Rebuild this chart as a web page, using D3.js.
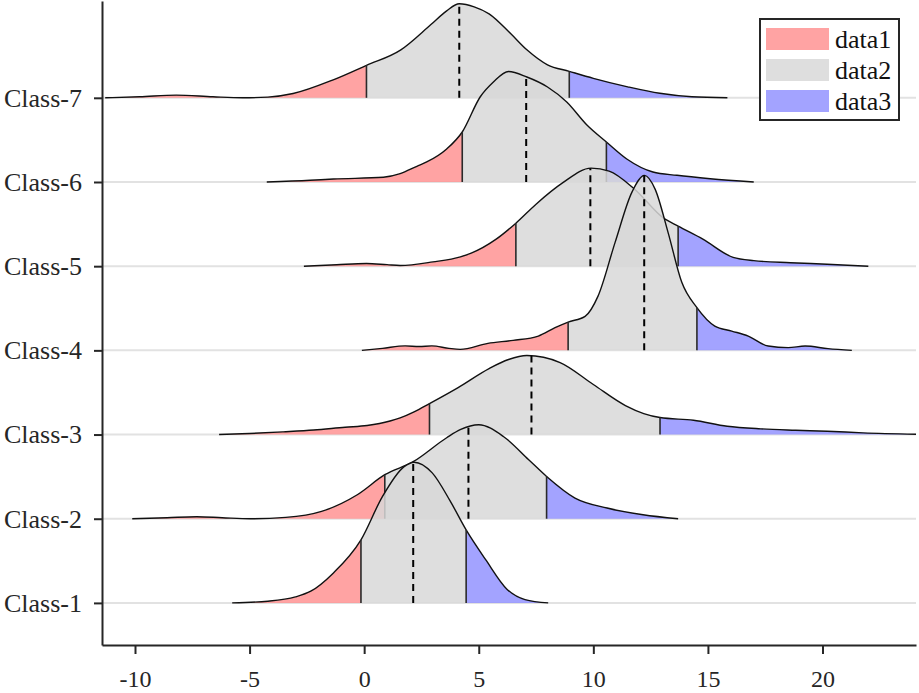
<!DOCTYPE html>
<html>
<head>
<meta charset="utf-8">
<script src="https://cdn.jsdelivr.net/npm/d3@7/dist/d3.min.js"></script>
<style>
  html, body { margin: 0; padding: 0; background: #fff; }
  svg { display: block; }
  text { font-family: "Liberation Serif", "DejaVu Serif", serif; }
</style>
</head>
<body>
<svg id="chart" width="919" height="693"></svg>
<script>
// ---------------- data ----------------
const categories = ["Class-1", "Class-2", "Class-3", "Class-4", "Class-5", "Class-6", "Class-7"];
const seriesNames = ["data1", "data2", "data3"];
const xTicks = [-10, -5, 0, 5, 10, 15, 20];

// density curves: x positions and density heights for each class
const class1X = [-5.76, -4.2, -3.0, -2.33, -1.34, -0.14, 0.79, 1.73, 2.18, 2.97, 3.75, 4.45, 5.31, 6.24, 7.02, 8.03];
const class1D = [0, 0.017, 0.06, 0.117, 0.30, 0.63, 1.06, 1.36, 1.407, 1.30, 1.02, 0.73, 0.43, 0.135, 0.033, 0];

const class2X = [-10.12, -8.6, -7.31, -6.2, -4.97, -3.42, -1.86, -0.3, 0.9, 2.14, 3.6, 4.19, 5.0, 6.09, 7.18, 7.96, 9.2, 10.6, 12.17, 13.7];
const class2D = [0, 0.01, 0.02, 0.01, 0, 0.013, 0.073, 0.24, 0.44, 0.57, 0.81, 0.89, 0.94, 0.82, 0.59, 0.423, 0.207, 0.107, 0.04, 0];

const class3X = [-6.33, -5.0, -3.53, -2.2, -0.83, 0.13, 1.13, 1.57, 2.2, 2.85, 4.1, 5.45, 6.3, 7.1, 8.55, 10.0, 11.4, 12.2, 12.91, 14.37, 15.84, 17.3, 18.83, 20.2, 21.77, 24.08];
const class3D = [0, 0.01, 0.027, 0.045, 0.073, 0.09, 0.135, 0.167, 0.23, 0.31, 0.47, 0.66, 0.75, 0.79, 0.72, 0.50, 0.29, 0.21, 0.17, 0.143, 0.083, 0.057, 0.043, 0.033, 0.017, 0.003];

const class4X = [-0.1, 0.8, 1.79, 2.4, 2.95, 3.7, 4.19, 5.4, 6.5, 7.6, 8.33, 8.9, 9.64, 10.2, 10.95, 11.68, 12.23, 12.7, 13.26, 13.86, 14.52, 15.3, 16.04, 16.76, 17.63, 18.5, 19.24, 20.24, 21.28];
const class4D = [0, 0.02, 0.045, 0.038, 0.045, 0.02, 0.01, 0.07, 0.10, 0.143, 0.227, 0.283, 0.34, 0.54, 1.08, 1.58, 1.75, 1.61, 1.18, 0.68, 0.427, 0.243, 0.193, 0.143, 0.043, 0.027, 0.043, 0.017, 0];

const class5X = [-2.63, -1.2, 0.1, 1.0, 1.57, 3.0, 4.2, 4.67, 5.76, 6.62, 7.5, 8.64, 9.9, 10.69, 11.8, 13.07, 13.7, 14.78, 16.1, 17.0, 18.6, 20.2, 22.0];
const class5D = [0, 0.015, 0.027, 0.015, 0.007, 0.043, 0.093, 0.13, 0.27, 0.43, 0.62, 0.83, 0.98, 0.95, 0.77, 0.48, 0.40, 0.27, 0.088, 0.055, 0.035, 0.02, 0];

const class6X = [-4.25, -2.36, -1.34, 0.84, 1.57, 2.3, 2.73, 3.6, 4.28, 5.06, 5.64, 6.3, 7.1, 8.0, 8.84, 9.72, 10.57, 11.46, 12.6, 13.65, 15.1, 17.0];
const class6D = [0, 0.017, 0.03, 0.047, 0.083, 0.157, 0.20, 0.33, 0.50, 0.85, 1.0, 1.105, 1.05, 0.95, 0.80, 0.57, 0.40, 0.23, 0.10, 0.067, 0.033, 0];

const class7X = [-11.3, -9.8, -8.2, -6.6, -5.3, -4.2, -3.1, -1.35, 0.1, 1.6, 2.9, 3.6, 4.15, 4.8, 5.45, 6.4, 7.1, 8.0, 8.95, 10.0, 11.5, 12.9, 14.3, 15.85];
const class7D = [0, 0.01, 0.027, 0.01, 0, 0.007, 0.043, 0.18, 0.325, 0.48, 0.73, 0.87, 0.94, 0.91, 0.84, 0.64, 0.48, 0.33, 0.265, 0.195, 0.11, 0.045, 0.01, 0];

// quantile split points (lower, median, upper) per class
const lowerQ  = [-0.14, 0.9, 2.85, 8.9, 6.62, 4.28, 0.1];
const medians = [2.14, 4.55, 7.3, 12.22, 9.87, 7.07, 4.15];
const upperQ  = [4.45, 7.96, 12.91, 14.52, 13.7, 10.57, 8.95];

const curvesX = [class1X, class2X, class3X, class4X, class5X, class6X, class7X];
const curvesD = [class1D, class2D, class3D, class4D, class5D, class6D, class7D];

// ---------------- drawing ----------------
(function draw() {
  const W = 919, H = 693;
  const pL = 102, pR = 916, pT = 1, pB = 645;
  const colors = ["rgb(255,147,147)", "rgb(216,216,216)", "rgb(147,147,255)"];
  const fillAlpha = 0.85;
  const axisColor = "#262626";

  const svg = d3.select("#chart");
  const x = d3.scaleLinear().domain([-11.44, 24.08]).range([pL, pR]);
  const y = d3.scaleLinear().domain([0.5, 8.15]).range([pB, pT]);
  const ridge = d3.scaleLinear().domain([0, 1]).range([0, 1.188]);

  const defs = svg.append("defs");
  defs.append("clipPath").attr("id", "plotclip")
    .append("rect").attr("x", pL).attr("y", 0).attr("width", pR - pL).attr("height", pB);

  // grid lines
  svg.append("g").selectAll("line").data(categories).join("line")
    .attr("x1", pL).attr("x2", pR)
    .attr("y1", (d, i) => y(i + 1)).attr("y2", (d, i) => y(i + 1))
    .attr("stroke", "#e2e2e2").attr("stroke-width", 2);

  const plot = svg.append("g").attr("clip-path", "url(#plotclip)");

  // draw from top class down so lower ridges overlap upper ones
  for (let i = categories.length - 1; i >= 0; i--) {
    const base = i + 1;
    const pts = curvesX[i].map((xv, k) => [xv, curvesD[i][k]]);
    const area = d3.area().curve(d3.curveMonotoneX)
      .x(d => x(d[0])).y0(y(base)).y1(d => y(base + ridge(d[1])));
    const line = d3.line().curve(d3.curveMonotoneX)
      .x(d => x(d[0])).y(d => y(base + ridge(d[1])));

    const g = plot.append("g");
    const bounds = [x.domain()[0], lowerQ[i], upperQ[i], x.domain()[1]];
    for (let s = 0; s < 3; s++) {
      const cid = "clip-" + i + "-" + s;
      defs.append("clipPath").attr("id", cid).append("rect")
        .attr("x", x(bounds[s])).attr("width", x(bounds[s + 1]) - x(bounds[s]))
        .attr("y", 0).attr("height", H);
      g.append("path").datum(pts).attr("d", area)
        .attr("clip-path", "url(#" + cid + ")")
        .attr("fill", colors[s]).attr("fill-opacity", fillAlpha).attr("stroke", "none");
    }
    const outline = g.append("path").datum(pts).attr("d", line)
      .attr("fill", "none").attr("stroke", "#111").attr("stroke-width", 1.4);

    const node = outline.node();
    const total = node.getTotalLength();
    const yAt = (xv) => {
      const px = x(xv);
      let lo = 0, hi = total;
      for (let it = 0; it < 40; it++) {
        const mid = (lo + hi) / 2;
        if (node.getPointAtLength(mid).x < px) lo = mid; else hi = mid;
      }
      return node.getPointAtLength((lo + hi) / 2).y;
    };
    [lowerQ[i], upperQ[i]].forEach(q => {
      g.append("line").attr("x1", x(q)).attr("x2", x(q))
        .attr("y1", y(base)).attr("y2", yAt(q))
        .attr("stroke", "#2a2a2a").attr("stroke-width", 1.6);
    });
    g.append("line").attr("x1", x(medians[i])).attr("x2", x(medians[i]))
      .attr("y1", y(base)).attr("y2", yAt(medians[i]))
      .attr("stroke", "#000").attr("stroke-width", 2).attr("stroke-dasharray", "7,5");
  }

  // axes
  const xAxis = d3.axisBottom(x).tickValues(xTicks).tickFormat(d => String(d))
    .tickSize(9).tickSizeOuter(0).tickPadding(16);
  const gx = svg.append("g").attr("transform", `translate(0,${pB})`).call(xAxis);
  gx.select(".domain").attr("stroke", axisColor).attr("stroke-width", 2);
  gx.selectAll(".tick line").attr("stroke", axisColor).attr("stroke-width", 2);
  gx.selectAll(".tick text").attr("fill", axisColor).style("font-size", "24px")
    .style("font-family", "'Liberation Serif', serif");

  const yAxis = d3.axisLeft(y).tickValues(d3.range(1, categories.length + 1))
    .tickFormat(d => categories[d - 1]).tickSize(8).tickSizeOuter(0).tickPadding(12);
  const gy = svg.append("g").attr("transform", `translate(${pL},0)`).call(yAxis);
  gy.select(".domain").attr("stroke", axisColor).attr("stroke-width", 2);
  gy.selectAll(".tick line").attr("stroke", axisColor).attr("stroke-width", 2);
  gy.selectAll(".tick text").attr("fill", axisColor).style("font-size", "26px")
    .style("font-family", "'Liberation Serif', serif");

  // legend
  const lg = svg.append("g").attr("transform", "translate(760,19)");
  lg.append("rect").attr("width", 139).attr("height", 101)
    .attr("fill", "#fff").attr("stroke", axisColor).attr("stroke-width", 2);
  seriesNames.forEach((name, k) => {
    lg.append("rect").attr("x", 6).attr("y", 9 + k * 31).attr("width", 63).attr("height", 22)
      .attr("fill", colors[k]).attr("fill-opacity", fillAlpha);
    lg.append("text").attr("x", 75).attr("y", 20 + k * 31).attr("dy", "0.35em")
      .attr("fill", "#111").style("font-size", "26px").text(name);
  });
})();
</script>
</body>
</html>
